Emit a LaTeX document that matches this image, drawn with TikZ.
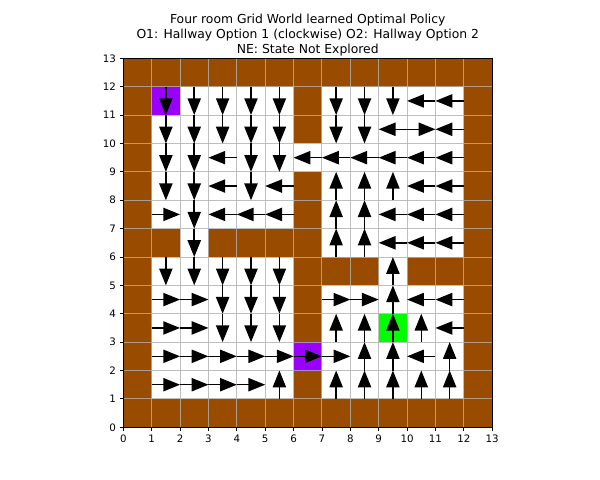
\documentclass[tikz,border=0pt]{standalone}
\usepackage{fontspec}
\setmainfont{DejaVu Sans}
\usepackage{xcolor}
\usepackage{tikz}
\usetikzlibrary{arrows.meta}

\definecolor{wallbrown}{RGB}{153,76,0}
\definecolor{hallpurple}{RGB}{153,0,255}
\definecolor{goalgreen}{RGB}{0,255,0}
\definecolor{gridgray}{RGB}{176,176,176}

\begin{document}
\begin{tikzpicture}[x=0.7095cm, y=0.7095cm,
    pol/.style={line width=1.1pt, -{Triangle[length=0.42cm, width=0.33cm]}},
    ticklab/.style={inner sep=0pt, font=\fontsize{7.3}{8.8}\selectfont},
    titleline/.style={anchor=base, inner sep=0pt, font=\fontsize{8.8}{10.6}\selectfont}]

    \useasboundingbox (-4.345,-1.857) rectangle (16.797,15.056);

    % =================================================================
    % 1. WALLS, ROOMS AND HALLWAYS
    % =================================================================
    \fill[wallbrown] (0,0) rectangle (13,13);

    % four rooms
    \fill[white] (1,1) rectangle (6,6);
    \fill[white] (1,7) rectangle (6,12);
    \fill[white] (7,6) rectangle (12,12);
    \fill[white] (7,1) rectangle (12,5);

    % hallways
    \fill[white] (2,6) rectangle (3,7);
    \fill[white] (6,9) rectangle (7,10);
    \fill[white] (9,5) rectangle (10,6);
    \fill[hallpurple] (6,2) rectangle (7,3);

    % start and goal
    \fill[hallpurple] (1,11) rectangle (2,12);
    \fill[goalgreen] (9,3) rectangle (10,4);

    % grid lines
    \foreach \k in {0,...,13} {
        \draw[gridgray, opacity=0.8, line width=0.7pt] (\k,0) -- (\k,13);
        \draw[gridgray, opacity=0.8, line width=0.7pt] (0,\k) -- (13,\k);
    }

    % =================================================================
    % 2. POLICY ARROWS
    % =================================================================
    % down
    \foreach \x/\y in {1/11,2/11,3/11,4/11,5/11,7/11,8/11,9/11,
                       1/10,2/10,3/10,4/10,5/10,7/10,8/10,
                       1/9,2/9,4/9,5/9,1/8,2/8,4/8,2/7,2/6,
                       1/5,2/5,3/5,4/5,5/5,3/4,4/4,5/4,3/3,4/3,5/3} {
        \draw[pol] (\x+0.5,\y+1) -- (\x+0.5,\y);
    }
    % up
    \foreach \x/\y in {7/8,8/8,9/8,7/7,8/7,7/6,8/6,9/5,9/4,
                       7/3,8/3,9/3,10/3,8/2,9/2,11/2,
                       5/1,7/1,8/1,9/1,10/1,11/1} {
        \draw[pol] (\x+0.5,\y) -- (\x+0.5,\y+1);
    }
    % left
    \foreach \x/\y in {10/11,11/11,9/10,11/10,
                       3/9,6/9,7/9,8/9,9/9,10/9,11/9,
                       3/8,5/8,10/8,11/8,3/7,4/7,5/7,9/7,10/7,11/7,
                       9/6,10/6,11/6,10/4,11/4,11/3,10/2} {
        \draw[pol] (\x+1,\y+0.5) -- (\x,\y+0.5);
    }
    % right
    \foreach \x/\y in {10/10,1/7,1/4,2/4,7/4,8/4,1/3,2/3,
                       1/2,2/2,3/2,4/2,5/2,6/2,7/2,1/1,2/1,3/1,4/1} {
        \draw[pol] (\x,\y+0.5) -- (\x+1,\y+0.5);
    }

    % =================================================================
    % 3. AXES, TICKS AND TITLE
    % =================================================================
    \draw[line width=0.6pt] (0,0) rectangle (13,13);
    \foreach \k in {0,...,13} {
        \draw[line width=0.6pt] (\k,0) -- (\k,-0.127);
        \node[ticklab, anchor=north] (xt\k) at (\k,-0.254) {\k};
        \draw[line width=0.6pt] (0,\k) -- (-0.127,\k);
        \node[ticklab, anchor=east] (yt\k) at (-0.254,\k) {\k};
    }

    \node[titleline] (title1) at (6.5,14.228) {Four room Grid World learned Optimal Policy};
    \node[titleline] (title2) at (6.5,13.700) {O1: Hallway Option 1 (clockwise) O2: Hallway Option 2};
    \node[titleline] (title3) at (6.5,13.171) {NE: State Not Explored};

\end{tikzpicture}
\end{document}
